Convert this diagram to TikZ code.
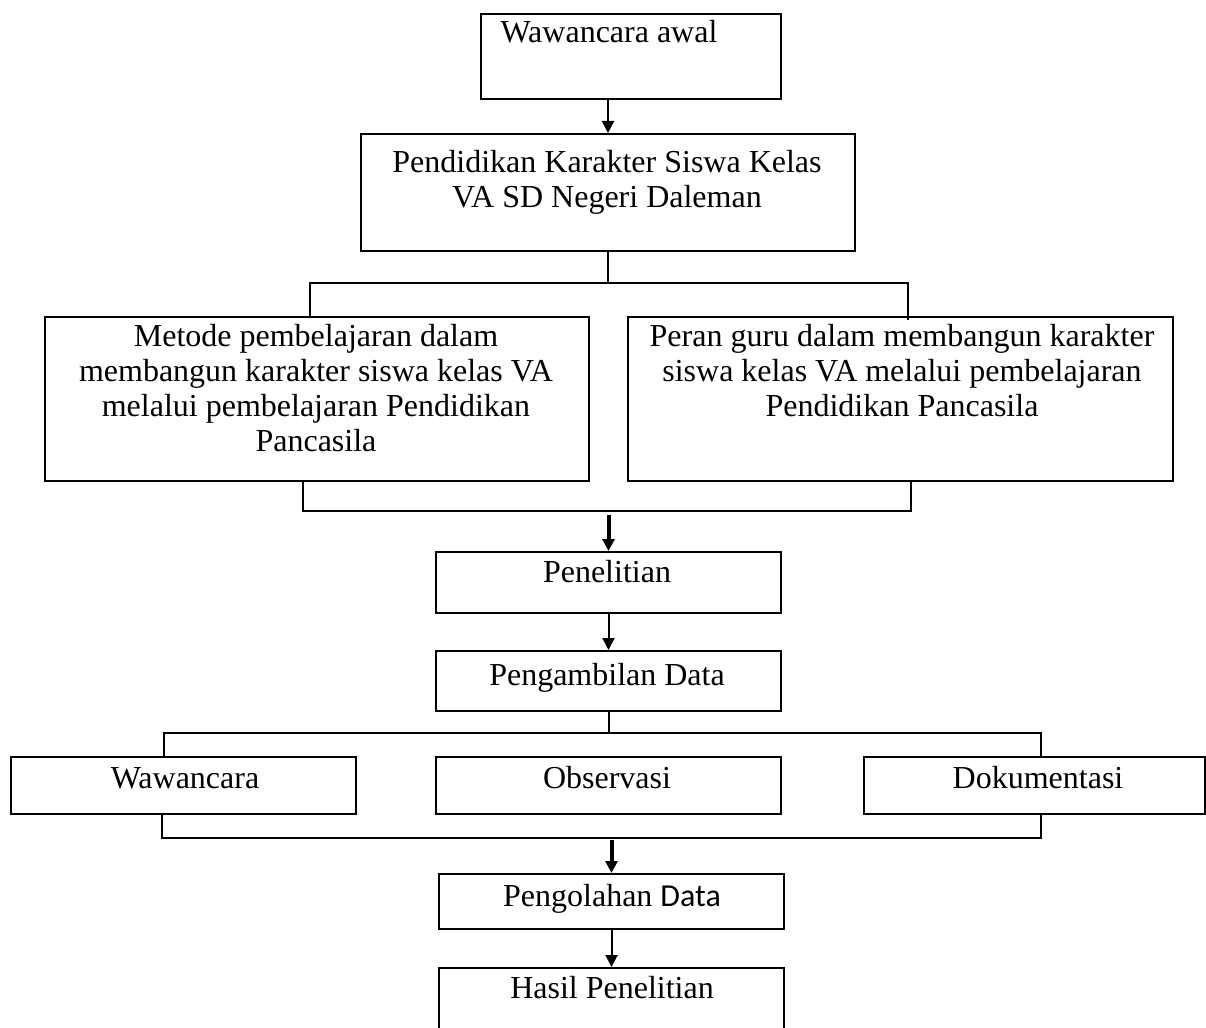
\documentclass[tikz,border=0pt]{standalone}
\usepackage{fontspec}
\setmainfont{Liberation Serif}
\newfontfamily\calib{Carlito}
\usetikzlibrary{arrows.meta}
\begin{document}
\begin{tikzpicture}[x=1pt,y=-1pt,
  box/.style={draw, line width=2pt, anchor=north west, inner sep=0pt},
  txt/.style={anchor=base, align=center, inner sep=0pt, font=\fontsize{32}{35}\selectfont},
  ln/.style={line width=2pt},
  arr/.style={line width=2pt, -{Triangle[length=12pt,width=12pt]}},
  tarr/.style={line width=4pt, -{Triangle[length=12pt,width=12pt]}}]
\useasboundingbox[fill=white] (0,0) rectangle (1206,1027);

% boxes
\node[box, minimum width=300pt, minimum height=85pt] (b1) at (480,13) {};
\node[box, minimum width=494pt, minimum height=117pt] (b2) at (360,133) {};
\node[box, minimum width=544pt, minimum height=164pt] (b3) at (44,316) {};
\node[box, minimum width=545pt, minimum height=164pt] (b4) at (627,316) {};
\node[box, minimum width=345pt, minimum height=61pt] (b5) at (435,551) {};
\node[box, minimum width=345pt, minimum height=60pt] (b6) at (435,650) {};
\node[box, minimum width=345pt, minimum height=57pt] (b7) at (10,756) {};
\node[box, minimum width=345pt, minimum height=57pt] (b8) at (435,756) {};
\node[box, minimum width=341pt, minimum height=57pt] (b9) at (863,756) {};
\node[box, minimum width=345pt, minimum height=55pt] (b10) at (438,873) {};
\node[box, minimum width=345pt, minimum height=90pt] (b11) at (438,967) {};

% texts (anchor base = baseline of the last line)
\node[txt] (t1) at (609,43) {Wawancara awal};
\node[txt] (t2) at (607,207) {Pendidikan Karakter Siswa Kelas\\VA SD Negeri Daleman};
\node[txt] (t3) at (316,451) {Metode pembelajaran dalam\\membangun karakter siswa kelas VA\\melalui pembelajaran Pendidikan\\Pancasila};
\node[txt] (t4) at (902,416) {Peran guru dalam membangun karakter\\siswa kelas VA melalui pembelajaran\\Pendidikan Pancasila};
\node[txt] (t5) at (607,582) {Penelitian};
\node[txt] (t6) at (607,685) {Pengambilan Data};
\node[txt] (t7) at (185,788) {Wawancara};
\node[txt] (t8) at (607,788) {Observasi};
\node[txt] (t9) at (1038,788) {Dokumentasi};
\node[txt] (t10) at (612,906) {Pengolahan {\calib Data}};
\node[txt] (t11) at (612,998) {Hasil Penelitian};

% connectors
\draw[arr] (b1.south -| b2.north) -- (b2.north);
\draw[ln] (b2.south) -- (b2.south |- 0,283);
\draw[ln] ([xshift=-7pt]b3.north) |- ([xshift=7pt]b4.north |- 0,283) -- ([xshift=7pt,yshift=-4pt]b4.north);
\draw[ln] ([xshift=-14pt]b3.south) |- ([xshift=10pt]b4.south |- 0,511) -- ([xshift=10pt]b4.south);
\draw[tarr] (b5.north |- 0,515) -- (b5.north);
\draw[arr] (b5.south) -- (b6.north);
\draw[ln] (b6.south) -- (b6.south |- 0,733);
\draw[ln] ([xshift=-20pt]b7.north) |- ([xshift=6pt]b9.north |- 0,733) -- ([xshift=6pt]b9.north);
\draw[ln] ([xshift=-22pt]b7.south) |- ([xshift=6pt]b9.south |- 0,838) -- ([xshift=6pt]b9.south);
\draw[tarr] (b10.north |- 0,840) -- (b10.north);
\draw[arr] (b10.south) -- (b11.north);
\end{tikzpicture}
\end{document}
